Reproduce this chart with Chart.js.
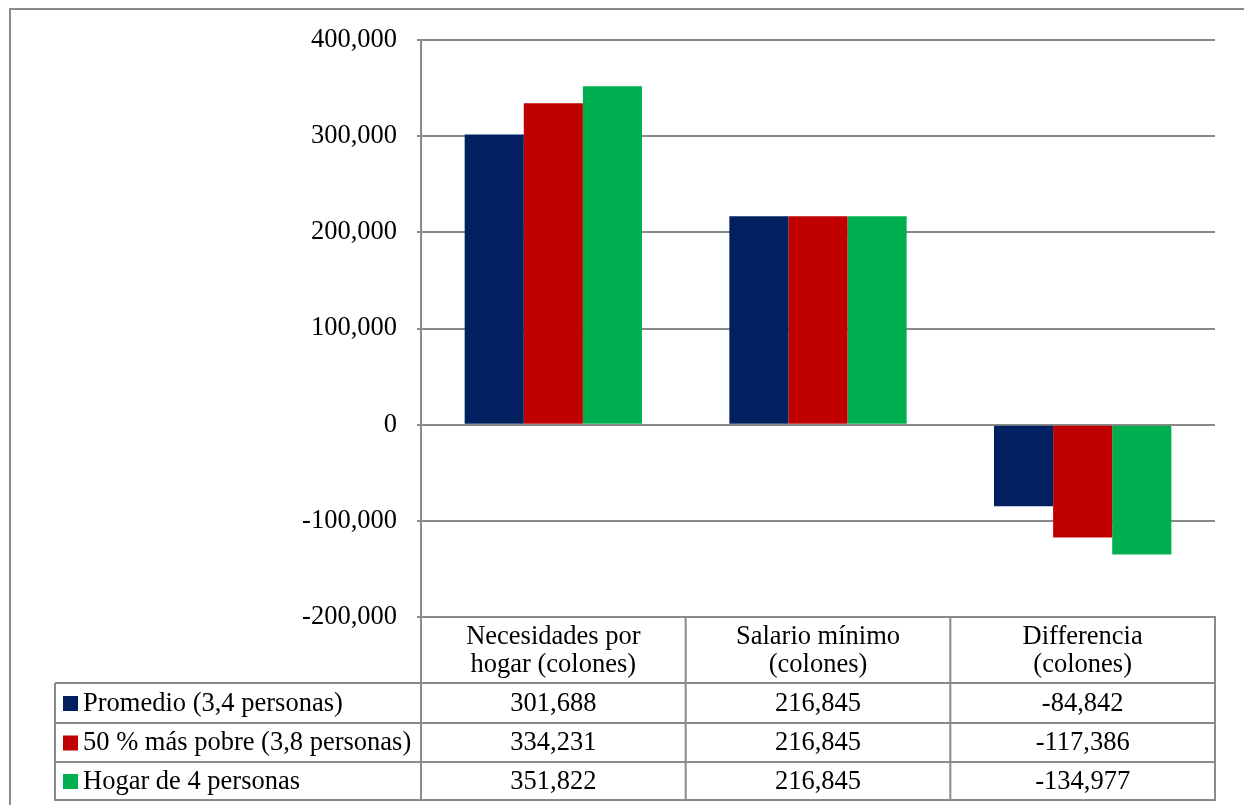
<!DOCTYPE html>
<html>
<head>
<meta charset="utf-8">
<script src="https://cdn.jsdelivr.net/npm/chart.js@4"></script>
<style>
  html, body { margin: 0; padding: 0; background: #fff; }
  #wrap { position: relative; width: 1244px; height: 805px; }
</style>
</head>
<body>
<div id="wrap"><canvas id="myChart" width="1244" height="805"></canvas></div>
<script>
// categories (two-line labels as in the data table header)
var categories = [
  ['Necesidades por', 'hogar (colones)'],
  ['Salario mínimo', '(colones)'],
  ['Differencia', '(colones)']
];
var seriesNames = ['Promedio (3,4 personas)', '50 % más pobre (3,8 personas)', 'Hogar de 4 personas'];
var promedio = [301688, 216845, -84842];
var pobre = [334231, 216845, -117386];
var hogar4 = [351822, 216845, -134977];
var colors = ['#002060', '#C00000', '#00B050'];

var FONT = '"Liberation Serif", "Times New Roman", serif';
var FSIZE = 26.5;
var lineColor = '#8a8a8a';

function fmt(v) {
  return v.toLocaleString('en-US');
}

// draws the outer frame of the chart object
var framePlugin = {
  id: 'frame',
  beforeDraw: function (chart) {
    var ctx = chart.ctx;
    ctx.save();
    ctx.strokeStyle = lineColor;
    ctx.lineWidth = 2;
    ctx.strokeRect(10, 9, chart.width + 20, chart.height + 20);
    ctx.restore();
  }
};

// data table under the plot, like Excel's "data table with legend keys"
var tablePlugin = {
  id: 'dataTable',
  afterDraw: function (chart) {
    var ctx = chart.ctx;
    var area = chart.chartArea;
    var xs = chart.scales.x;
    var n = categories.length;
    var colW = (area.right - area.left) / n;
    var top = area.bottom;
    var rows = [top + 66, top + 106, top + 145, top + 183];
    var legendLeft = 55;

    ctx.save();
    ctx.strokeStyle = lineColor;
    ctx.lineWidth = 2;
    ctx.beginPath();
    // vertical lines
    for (var i = 0; i <= n; i++) {
      var x = area.left + i * colW;
      ctx.moveTo(x, top);
      ctx.lineTo(x, rows[3] + 1);
    }
    ctx.moveTo(legendLeft, rows[0]);
    ctx.lineTo(legendLeft, rows[3] + 1);
    // horizontal lines
    ctx.moveTo(area.left, top);
    ctx.lineTo(area.right + 1, top);
    for (var r = 0; r < rows.length; r++) {
      ctx.moveTo(legendLeft, rows[r]);
      ctx.lineTo(area.right + 1, rows[r]);
    }
    ctx.stroke();

    ctx.fillStyle = '#000';
    ctx.font = FSIZE + 'px ' + FONT;
    ctx.textAlign = 'center';
    ctx.textBaseline = 'middle';
    // header
    for (var c = 0; c < n; c++) {
      var cx = xs.getPixelForValue(c);
      ctx.fillText(categories[c][0], cx, top + 20);
      ctx.fillText(categories[c][1], cx, top + 48);
    }
    // rows
    chart.data.datasets.forEach(function (ds, d) {
      var y0 = rows[d];
      var y1 = rows[d + 1];
      var cy = (y0 + y1) / 2 + 1;
      ctx.textAlign = 'center';
      ctx.fillStyle = '#000';
      ds.data.forEach(function (v, c) {
        ctx.fillText(fmt(v), xs.getPixelForValue(c), cy);
      });
      ctx.fillStyle = ds.backgroundColor;
      ctx.fillRect(legendLeft + 8, cy - 8, 15, 15);
      ctx.fillStyle = '#000';
      ctx.textAlign = 'left';
      ctx.fillText(ds.label, legendLeft + 28, cy);
    });
    ctx.restore();
  }
};

var ctx = document.getElementById('myChart').getContext('2d');
var myChart = new Chart(ctx, {
  type: 'bar',
  data: {
    labels: categories,
    datasets: [
      { label: seriesNames[0], data: promedio, backgroundColor: colors[0] },
      { label: seriesNames[1], data: pobre, backgroundColor: colors[1] },
      { label: seriesNames[2], data: hogar4, backgroundColor: colors[2] }
    ]
  },
  options: {
    responsive: false,
    animation: false,
    layout: { padding: { left: 0, top: 40, right: 29, bottom: 188 } },
    datasets: {
      bar: { categoryPercentage: 0.67, barPercentage: 1.0 }
    },
    plugins: {
      legend: { display: false },
      tooltip: { enabled: false }
    },
    scales: {
      x: { display: false },
      y: {
        min: -200000,
        max: 400000,
        afterFit: function (scale) { scale.width = 421; },
        ticks: {
          stepSize: 100000,
          padding: 20,
          color: '#000',
          font: { family: FONT, size: FSIZE },
          callback: function (v) { return fmt(v); }
        },
        grid: { color: lineColor, lineWidth: 2, tickLength: 4 },
        border: { color: lineColor, width: 2 }
      }
    }
  },
  plugins: [framePlugin, tablePlugin]
});
</script>
</body>
</html>
